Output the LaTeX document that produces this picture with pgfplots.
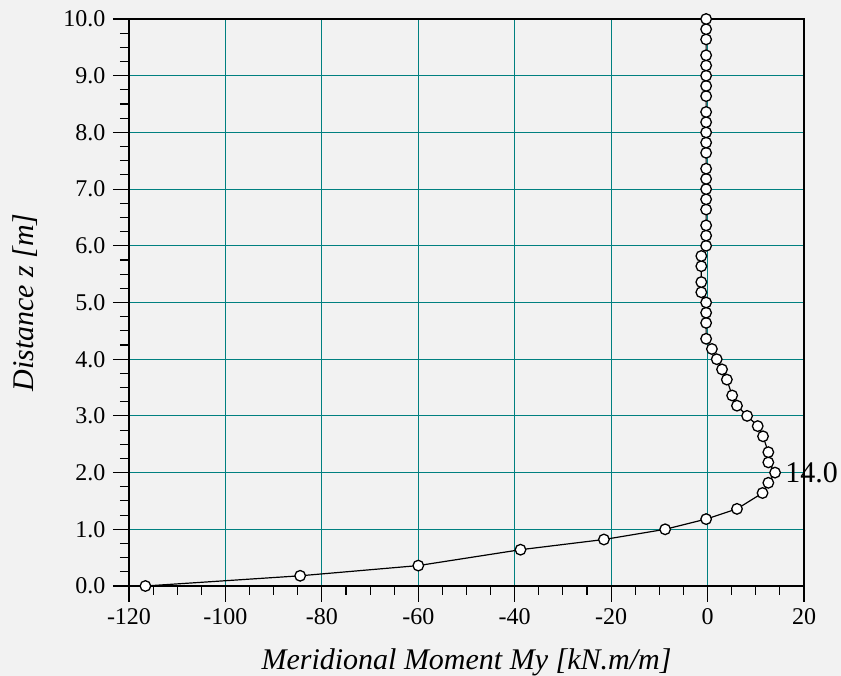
\documentclass[border=0pt]{standalone}
\usepackage{fontspec}
\setmainfont{Liberation Serif}
\usepackage{pgfplots}
\pgfplotsset{compat=1.18}
\definecolor{bg}{HTML}{F2F2F2}
\definecolor{gridc}{HTML}{008080}
\begin{document}
\begin{tikzpicture}
\fill[bg] (0pt,0pt) rectangle (841pt,676pt);
\useasboundingbox (0pt,0pt) rectangle (841pt,676pt);
\begin{axis}[
 at={(129pt,90pt)}, anchor=south west,
 width=675pt, height=567pt, scale only axis,
 xmin=-120, xmax=20, ymin=0, ymax=10,
 xtick={-120,-100,...,20}, ytick={0,1,...,10},
 minor x tick num=3, minor y tick num=3,
 tick align=outside, xtick pos=lower, ytick pos=left,
 major tick length=16pt, minor tick length=9pt,
 every tick/.style={black, line width=1.1pt},
 axis line style={line width=1.2pt, black},
 grid=major, major grid style={draw=gridc, line width=1pt},
 tick label style={font=\fontsize{24}{28}\selectfont},
 /pgf/number format/assume math mode=true,
 y tick label style={xshift=-4pt, /pgf/number format/fixed, /pgf/number format/fixed zerofill, /pgf/number format/precision=1},
 x tick label style={yshift=-3pt, /pgf/number format/fixed, /pgf/number format/precision=0},
 label style={font=\fontsize{30}{36}\selectfont\itshape},
 xlabel={Meridional Moment My [kN.m/m]},
 ylabel={Distance z [m]},
 xlabel style={at={(axis description cs:0.5,-0.148)}, anchor=base},
 ylabel style={at={(axis description cs:-0.154,0.5)}, anchor=center},
 clip=false,
]
\addplot[black, line width=1.2pt, mark=*, mark size=5.3pt, mark options={fill=white, draw=black, line width=1.3pt}] coordinates {
(-116.6,0.00) (-84.5,0.18) (-60.0,0.36) (-38.8,0.64) (-21.5,0.82)
(-8.8,1.00) (-0.3,1.18) (6.1,1.36) (11.4,1.64) (12.6,1.82)
(14.0,2.00) (12.6,2.18) (12.6,2.36) (11.5,2.64) (10.4,2.82)
(8.2,3.00) (6.1,3.18) (5.1,3.36) (4.0,3.64) (3.0,3.82)
(1.9,4.00) (0.9,4.18) (-0.3,4.36) (-0.3,4.64) (-0.3,4.82)
(-0.3,5.00) (-1.3,5.18) (-1.3,5.36) (-1.3,5.64) (-1.3,5.82)
(-0.3,6.00) (-0.3,6.18) (-0.3,6.36) (-0.3,6.64) (-0.3,6.82)
(-0.3,7.00) (-0.3,7.18) (-0.3,7.36) (-0.3,7.64) (-0.3,7.82)
(-0.3,8.00) (-0.3,8.18) (-0.3,8.36) (-0.3,8.64) (-0.3,8.82)
(-0.3,9.00) (-0.3,9.18) (-0.3,9.36) (-0.3,9.64) (-0.3,9.82)
(-0.3,10.00)
};
\node[anchor=west, font=\fontsize{30}{36}\selectfont, inner sep=0pt, xshift=10pt] at (axis cs:14.0,2.0) {14.0};
\end{axis}
\end{tikzpicture}
\end{document}
